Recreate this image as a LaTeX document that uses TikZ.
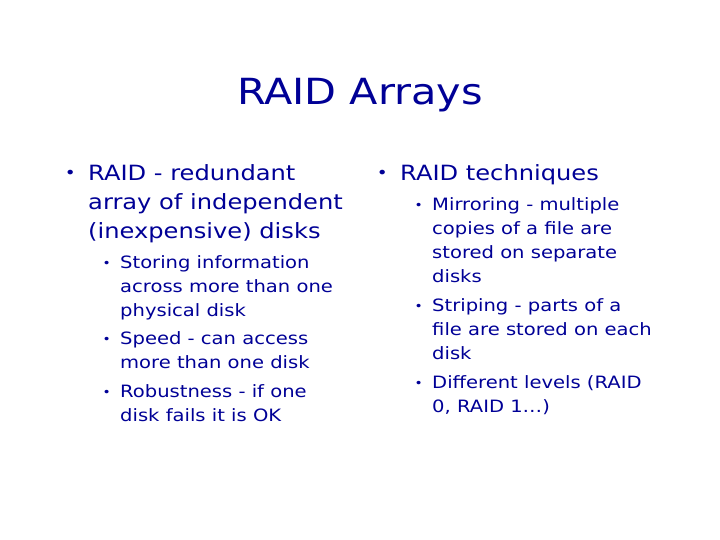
\documentclass[tikz,border=0pt]{standalone}
\usepackage{fontspec}
\setmainfont[FakeStretch=1.15]{DejaVu Sans}
\usetikzlibrary{positioning}
\definecolor{slideblue}{RGB}{0,0,150}
\tikzset{
  mainitem/.style={anchor=north west, align=left, inner sep=0pt, text=slideblue,
    font=\fontsize{21}{29}\selectfont},
  subitem/.style={anchor=north west, align=left, inner sep=0pt, text=slideblue,
    font=\fontsize{17}{24}\selectfont},
  dot/.style={anchor=north east, inner sep=0pt, text=slideblue}
}
\begin{document}
\begin{tikzpicture}[x=1pt,y=-1pt]
  \useasboundingbox (0,0) rectangle (720,540);

  % Title
  \node[text=slideblue, font=\fontsize{36}{40}\selectfont] (title) at (360,95) {RAID Arrays};

  % Left column
  \node[mainitem] (raid) at (88,164) {RAID - redundant\\array of independent\\(inexpensive) disks};
  \node[dot, font=\fontsize{16}{20}\selectfont] (b1) at (76,170) {•};
  \node[subitem] (store) at (120,255) {Storing information\\across more than one\\physical disk};
  \node[dot, font=\fontsize{12}{20}\selectfont] (b2) at (111,261) {•};
  \node[subitem] (speed) at (120,331) {Speed - can access\\more than one disk};
  \node[dot, font=\fontsize{12}{20}\selectfont] (b3) at (111,337) {•};
  \node[subitem] (robust) at (120,384) {Robustness - if one\\disk fails it is OK};
  \node[dot, font=\fontsize{12}{20}\selectfont] (b4) at (111,390) {•};

  % Right column
  \node[mainitem] (tech) at (400,164) {RAID techniques};
  \node[dot, font=\fontsize{16}{20}\selectfont] (b5) at (388,170) {•};
  \node[subitem] (mirror) at (432,197) {Mirroring - multiple\\copies of a file are\\stored on separate\\disks};
  \node[dot, font=\fontsize{12}{20}\selectfont] (b6) at (423,203) {•};
  \node[subitem] (stripe) at (432,298) {Striping - parts of a\\file are stored on each\\disk};
  \node[dot, font=\fontsize{12}{20}\selectfont] (b7) at (423,304) {•};
  \node[subitem] (levels) at (432,375) {Different levels (RAID\\0, RAID 1…)};
  \node[dot, font=\fontsize{12}{20}\selectfont] (b8) at (423,381) {•};
\end{tikzpicture}
\end{document}
